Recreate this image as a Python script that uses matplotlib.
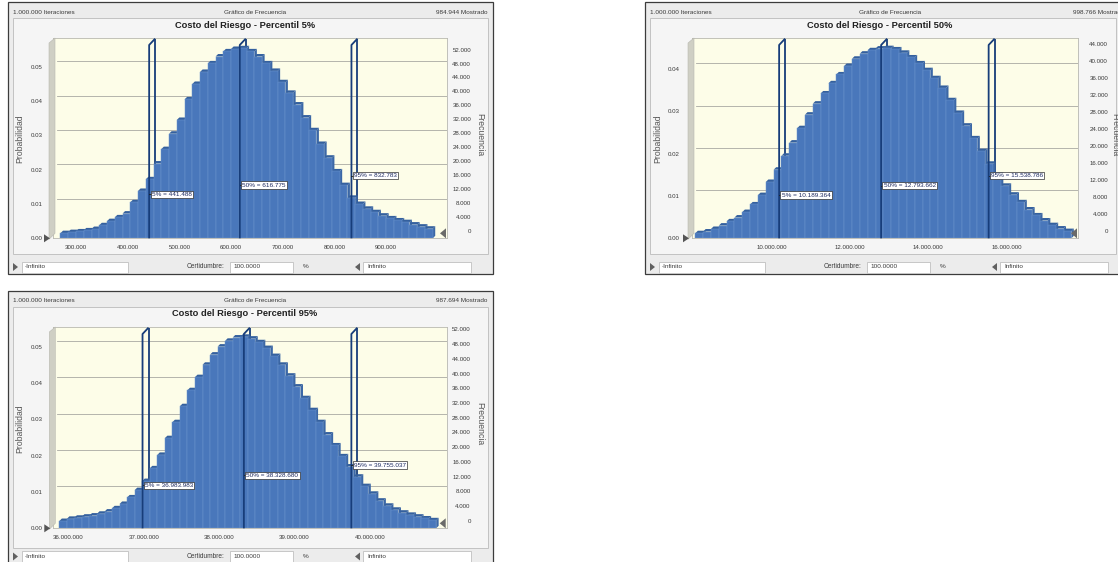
import matplotlib
matplotlib.use("Agg")
import matplotlib.pyplot as plt
from matplotlib.patches import Rectangle, Polygon
from matplotlib.collections import PolyCollection

plt.rcParams['font.family'] = ['Liberation Sans', 'DejaVu Sans']

# ---------------- data ----------------
header_left = "1.000.000 Iteraciones"
header_mid = "Gráfico de Frecuencia"
shown_counts = [984944, 998766, 987694]
titles = ["Costo del Riesgo - Percentil 5%",
          "Costo del Riesgo - Percentil 50%",
          "Costo del Riesgo - Percentil 95%"]
pct_names = ["5%", "50%", "95%"]
ylabel_left = "Probabilidad"
ylabel_right = "Frecuencia"
cert_label = "Certidumbre:"
cert_value = "100.0000"
cert_low = "-Infinito"
cert_high = "Infinito"
pct_sign = "%"

p1_bin_start = 270000
p1_bin_width = 15000
p1_prob = [0.0015, 0.0018, 0.0020, 0.0023, 0.0027, 0.0038, 0.0050, 0.0061,
           0.0072, 0.0105, 0.0138, 0.0172, 0.0218, 0.0260, 0.0305, 0.0345,
           0.0405, 0.0450, 0.0485, 0.0510, 0.0530, 0.0545, 0.0552, 0.0554,
           0.0545, 0.0530, 0.0510, 0.0488, 0.0455, 0.0424, 0.0390, 0.0352,
           0.0315, 0.0275, 0.0235, 0.0195, 0.0155, 0.0118, 0.0100, 0.0086,
           0.0076, 0.0066, 0.0058, 0.0052, 0.0047, 0.0040, 0.0034, 0.0028]
p1_percentiles = [441488, 616775, 832783]
p1_xticks = [300000, 400000, 500000, 600000, 700000, 800000, 900000]
p1_yticks = [0.00, 0.01, 0.02, 0.03, 0.04, 0.05]
p1_freq_ticks = [0, 4000, 8000, 12000, 16000, 20000, 24000, 28000, 32000,
                 36000, 40000, 44000, 48000, 52000]

p2_bin_start = 8050000
p2_bin_width = 200000
p2_prob = [0.0012, 0.0016, 0.0022, 0.0030, 0.0040, 0.0049, 0.0062, 0.0080,
           0.0102, 0.0133, 0.0162, 0.0195, 0.0226, 0.0260, 0.0292, 0.0318,
           0.0342, 0.0366, 0.0387, 0.0407, 0.0424, 0.0436, 0.0444, 0.0448,
           0.0449, 0.0446, 0.0438, 0.0427, 0.0413, 0.0397, 0.0378, 0.0355,
           0.0326, 0.0296, 0.0266, 0.0236, 0.0206, 0.0176, 0.0150, 0.0124,
           0.0103, 0.0085, 0.0068, 0.0054, 0.0042, 0.0031, 0.0023, 0.0017]
p2_percentiles = [10189364, 12793662, 15538786]
p2_xticks = [10000000, 12000000, 14000000, 16000000]
p2_yticks = [0.00, 0.01, 0.02, 0.03, 0.04]
p2_freq_ticks = [0, 4000, 8000, 12000, 16000, 20000, 24000, 28000, 32000,
                 36000, 40000, 44000]

p3_bin_start = 35880000
p3_bin_width = 100000
p3_prob = [0.0020, 0.0026, 0.0029, 0.0032, 0.0035, 0.0040, 0.0046, 0.0055,
           0.0067, 0.0085, 0.0105, 0.0130, 0.0165, 0.0202, 0.0248, 0.0292,
           0.0336, 0.0380, 0.0416, 0.0450, 0.0478, 0.0500, 0.0516, 0.0525,
           0.0527, 0.0522, 0.0512, 0.0496, 0.0474, 0.0450, 0.0420, 0.0390,
           0.0358, 0.0325, 0.0292, 0.0258, 0.0228, 0.0198, 0.0170, 0.0142,
           0.0116, 0.0095, 0.0076, 0.0062, 0.0051, 0.0043, 0.0037, 0.0032,
           0.0027, 0.0022]
p3_percentiles = [36983983, 38328680, 39755037]
p3_xticks = [36000000, 37000000, 38000000, 39000000, 40000000]
p3_yticks = [0.00, 0.01, 0.02, 0.03, 0.04, 0.05]
p3_freq_ticks = [0, 4000, 8000, 12000, 16000, 20000, 24000, 28000, 32000,
                 36000, 40000, 44000, 48000, 52000]

# ---------------- layout (pixels) ----------------
W, H, DPI = 1118, 562, 100
layouts = [
    dict(frame=(8, 2, 493, 274), inner=(13, 18, 488, 254), plot=(53, 38, 447, 238.3),
         xlim=(255500, 1017600), ymax=0.0584, label_y=[0.0128, 0.0155, 0.0183],
         header_y=12, mid_x=255, title=(245, 26), row_y=267, ylab_x=20, y2lab_x=480,
         lpad=7.6, rpad=17.3),
    dict(frame=(645, 2, 1130, 274), inner=(650, 18, 1116, 254), plot=(692, 38, 1078, 238.3),
         xlim=(7965000, 17820000), ymax=0.0473, label_y=[0.0102, 0.0124, 0.0148],
         header_y=12, mid_x=890, title=(880, 26), row_y=267, ylab_x=658, y2lab_x=1115,
         lpad=9.0, rpad=21.6),
    dict(frame=(8, 291, 493, 575), inner=(13, 307, 488, 548), plot=(53.3, 327, 446.7, 528.3),
         xlim=(35800000, 41020000), ymax=0.0554, label_y=[0.0118, 0.0146, 0.0174],
         header_y=301, mid_x=255, title=(245, 314), row_y=556.5, ylab_x=20, y2lab_x=480,
         lpad=7.6, rpad=17.3),
]

FRONT = '#4977bb'
EDGE = '#6c94cc'
TOP = '#34609e'
SIDE = '#3b67a6'
MARK = '#173d7a'
CREAM = '#fdfde8'
TXT = '#3a3a3a'


def fmt(v):
    return f"{v:,.0f}".replace(",", ".")


def fig_rect(x0, y0, x1, y1):
    return [x0 / W, 1 - y1 / H, (x1 - x0) / W, (y1 - y0) / H]


fig = plt.figure(figsize=(W / DPI, H / DPI), dpi=DPI)
fig.patch.set_facecolor('white')

bg = fig.add_axes([0, 0, 1, 1], zorder=0)
bg.set_xlim(0, W)
bg.set_ylim(H, 0)
bg.axis('off')

fg = fig.add_axes([0, 0, 1, 1], zorder=5)
fg.set_xlim(0, W)
fg.set_ylim(H, 0)
fg.axis('off')
fg.patch.set_visible(False)

panels = [
    (p1_bin_start, p1_bin_width, p1_prob, p1_percentiles, p1_xticks, p1_yticks, p1_freq_ticks),
    (p2_bin_start, p2_bin_width, p2_prob, p2_percentiles, p2_xticks, p2_yticks, p2_freq_ticks),
    (p3_bin_start, p3_bin_width, p3_prob, p3_percentiles, p3_xticks, p3_yticks, p3_freq_ticks),
]

for k, (L, P) in enumerate(zip(layouts, panels)):
    start, width, probs, pcts, xticks, yticks, fticks = P
    N = shown_counts[k]
    fx0, fy0, fx1, fy1 = L['frame']
    ix0, iy0, ix1, iy1 = L['inner']
    px0, py0, px1, py1 = L['plot']

    # window chrome
    bg.add_patch(Rectangle((fx0, fy0), fx1 - fx0, fy1 - fy0, fc='#ececec', ec='#3c3c3c', lw=0.9))
    bg.add_patch(Rectangle((ix0, iy0), ix1 - ix0, iy1 - iy0, fc='#f5f5f5', ec='#c2c2c2', lw=0.7))
    hy = L['header_y']
    bg.text(fx0 + 5, hy, header_left, fontsize=4.6, color=TXT, ha='left', va='center')
    bg.text(L['mid_x'], hy, header_mid, fontsize=4.6, color=TXT, ha='center', va='center')
    bg.text(fx1 - 6, hy, f"{fmt(N)} Mostrado", fontsize=4.6, color=TXT, ha='right', va='center')
    bg.text(L['title'][0], L['title'][1], titles[k], fontsize=6.7, fontweight='bold',
            color='#202020', ha='center', va='center')
    bg.text(L['ylab_x'], (py0 + py1) / 2 + 1, ylabel_left, fontsize=6.2, color='#555555',
            rotation=90, ha='center', va='center')
    bg.text(L['y2lab_x'], (py0 + py1) / 2 - 4, ylabel_right, fontsize=6.2, color='#555555',
            rotation=270, ha='center', va='center')

    # bottom certainty row
    ry = L['row_y']
    bg.add_patch(Polygon([(fx0 + 5, ry - 4), (fx0 + 5, ry + 4), (fx0 + 10, ry)], fc='#606060', ec='none'))
    bg.add_patch(Rectangle((fx0 + 14, ry - 5.5), 106, 11, fc='white', ec='#c0c0c0', lw=0.6))
    bg.text(fx0 + 17, ry, cert_low, fontsize=4.6, color=TXT, ha='left', va='center')
    bg.text(fx0 + 179, ry, cert_label, fontsize=4.7, color=TXT, ha='left', va='center')
    bg.add_patch(Rectangle((fx0 + 222, ry - 5.5), 63, 11, fc='white', ec='#c0c0c0', lw=0.6))
    bg.text(fx0 + 225, ry, cert_value, fontsize=4.6, color=TXT, ha='left', va='center')
    bg.text(fx0 + 295, ry, pct_sign, fontsize=4.6, color=TXT, ha='left', va='center')
    bg.add_patch(Polygon([(fx0 + 352, ry - 4), (fx0 + 352, ry + 4), (fx0 + 347, ry)], fc='#606060', ec='none'))
    bg.add_patch(Rectangle((fx0 + 355, ry - 5.5), 108, 11, fc='white', ec='#c0c0c0', lw=0.6))
    bg.text(fx0 + 359, ry, cert_high, fontsize=4.6, color=TXT, ha='left', va='center')

    # plot axes
    ax = fig.add_axes(fig_rect(px0, py0, px1, py1), zorder=2)
    xlim = L['xlim']
    ymax = L['ymax']
    ax.set_xlim(*xlim)
    ax.set_ylim(0, ymax)
    ax.set_facecolor(CREAM)
    for s in ax.spines.values():
        s.set_color('#b8b8b0')
        s.set_linewidth(0.6)
    sx = (xlim[1] - xlim[0]) / (px1 - px0)
    sy = ymax / (py1 - py0)

    # back-wall grid lines
    for yv in yticks[1:]:
        ax.plot([xlim[0] + 4 * sx, xlim[1]], [yv + 5.5 * sy, yv + 5.5 * sy],
                color='#a9a9a2', lw=0.6, zorder=0.5)

    # 3D bars
    dx, dy = 2.5 * sx, 2.5 * sy
    lefts = [start + i * width for i in range(len(probs))]
    sides, tops = [], []
    for x0, h in zip(lefts, probs):
        x1 = x0 + width
        sides.append([(x1, 0), (x1, h), (x1 + dx, h + dy), (x1 + dx, dy)])
        tops.append([(x0, h), (x1, h), (x1 + dx, h + dy), (x0 + dx, h + dy)])
    ax.add_collection(PolyCollection(sides, facecolors=SIDE, edgecolors='none', zorder=2))
    ax.add_collection(PolyCollection(tops, facecolors=TOP, edgecolors='none', zorder=2.1))
    ax.bar(lefts, probs, width=width, align='edge', color=FRONT, edgecolor=EDGE,
           linewidth=0.35, zorder=2.2)

    # percentile markers
    dxm, dym = 6 * sx, 7 * sy
    for j, (v, ly) in enumerate(zip(pcts, L['label_y'])):
        ax.plot([v + dxm, v + dxm], [ymax - 0.6 * sy, dym], color=MARK, lw=1.3,
                zorder=1.5, solid_capstyle='butt')
        ax.plot([v, v, v + dxm], [0, ymax - dym, ymax - 0.6 * sy], color=MARK, lw=1.3,
                zorder=4, solid_capstyle='butt', clip_on=False)
        ax.plot([v, v + 3 * sx], [ly, ly], color='#202020', lw=0.6, zorder=5)
        ax.text(v + 2.5 * sx, ly, f"{pct_names[j]} = {fmt(v)}", fontsize=4.6, color='#1c2a60',
                ha='left', va='center', zorder=6,
                bbox=dict(boxstyle='square,pad=0.18', fc='white', ec='#303030', lw=0.5))

    # ticks
    ax.set_xticks(xticks, [fmt(t) for t in xticks])
    ax.set_yticks(yticks, [f"{t:.2f}" for t in yticks])
    ax.tick_params(axis='x', length=0, pad=5.0, labelsize=4.4, labelcolor=TXT)
    ax.tick_params(axis='y', length=0, pad=L['lpad'], labelsize=4.4, labelcolor=TXT)

    off = 7.6 * sy
    ax2 = ax.twinx()
    ax2.set_zorder(2.5)
    ax2.set_ylim((0 - off) * N, (ymax - off) * N)
    ax2.set_yticks(fticks, [fmt(t) for t in fticks])
    ax2.tick_params(axis='y', length=0, pad=L['rpad'], labelsize=4.4, labelcolor=TXT)
    for lab in ax2.get_yticklabels():
        lab.set_ha('right')
    for s in ax2.spines.values():
        s.set_visible(False)

    # left wall and grabbers (overlay)
    fg.add_patch(Polygon([(px0 - 4, py1 + 1), (px0 - 4, py0 + 5), (px0 + 2, py0),
                          (px0 + 2, py1 - 5)], fc='#cfcfc4', ec='#b8b8b0', lw=0.4))
    fg.add_patch(Polygon([(px0 - 9, py1 - 4), (px0 - 9, py1 + 4), (px0 - 3, py1)],
                         fc='#555555', ec='none'))
    fg.add_patch(Polygon([(px1 - 1, py1 - 10), (px1 - 1, py1), (px1 - 7, py1 - 5)],
                         fc='#6a6a6a', ec='none'))

fig.savefig("out.png", dpi=DPI)
